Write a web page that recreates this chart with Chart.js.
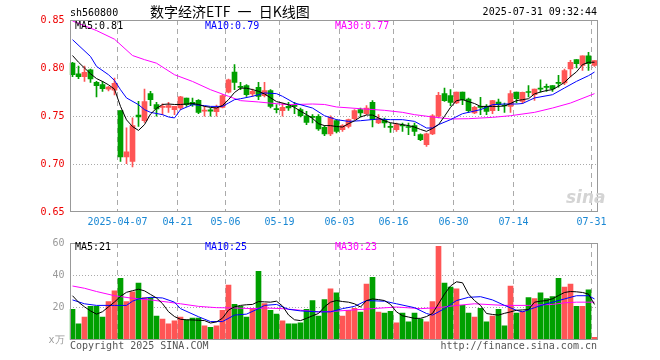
<!DOCTYPE html>
<html>
<head>
<meta charset="utf-8">
<script src="https://cdn.jsdelivr.net/npm/chart.js"></script>
<style>
  body { margin: 0; background: #fff; }
  #wrap { position: relative; width: 660px; height: 360px; overflow: hidden; font-family: 'DejaVu Sans Mono', monospace; font-size: 10px; }
  canvas { position: absolute; left: 0; }
  .t { position: absolute; white-space: nowrap; line-height: 12px; }
</style>
</head>
<body>
<div id="wrap">
  <canvas id="kline" width="660" height="232" style="top:0"></canvas>
  <canvas id="vol" width="660" height="128" style="top:232px"></canvas>
  <div class="t" style="left:70px;top:7px">sh560800</div>
  <div class="t" style="left:150px;top:3px;font:14px/16px 'Noto Sans CJK SC',sans-serif;word-spacing:4px">数字经济ETF 一 日K线图</div>
  <div class="t" style="right:63px;top:6px">2025-07-31 09:32:44</div>
  <div class="t" style="left:75px;top:20px;color:#000">MA5:0.81</div>
  <div class="t" style="left:205px;top:20px;color:#00f">MA10:0.79</div>
  <div class="t" style="left:335px;top:20px;color:#f0f">MA30:0.77</div>
  <div class="t" style="left:566px;top:188px;font:italic bold 17px/18px 'DejaVu Sans',sans-serif;color:#d4d4d4">sina</div>
  <div class="t" style="left:75px;top:241px;color:#000">MA5:21</div>
  <div class="t" style="left:205px;top:241px;color:#00f">MA10:25</div>
  <div class="t" style="left:335px;top:241px;color:#f0f">MA30:23</div>
  <div class="t" style="left:70px;top:340px;color:#555">Copyright 2025 SINA.COM</div>
  <div class="t" style="right:63px;top:340px;color:#555">http://finance.sina.com.cn</div>
</div>
<script>
// trading days shown on the chart
const dates = [
  '2025-03-25', '2025-03-26', '2025-03-27', '2025-03-28', '2025-03-31', '2025-04-01', '2025-04-02', '2025-04-03',
  '2025-04-07', '2025-04-08', '2025-04-09', '2025-04-10', '2025-04-11', '2025-04-14', '2025-04-15', '2025-04-16',
  '2025-04-17', '2025-04-18', '2025-04-21', '2025-04-22', '2025-04-23', '2025-04-24', '2025-04-25', '2025-04-28',
  '2025-04-29', '2025-04-30', '2025-05-06', '2025-05-07', '2025-05-08', '2025-05-09', '2025-05-12', '2025-05-13',
  '2025-05-14', '2025-05-15', '2025-05-16', '2025-05-19', '2025-05-20', '2025-05-21', '2025-05-22', '2025-05-23',
  '2025-05-26', '2025-05-27', '2025-05-28', '2025-05-29', '2025-05-30', '2025-06-03', '2025-06-04', '2025-06-05',
  '2025-06-06', '2025-06-09', '2025-06-10', '2025-06-11', '2025-06-12', '2025-06-13', '2025-06-16', '2025-06-17',
  '2025-06-18', '2025-06-19', '2025-06-20', '2025-06-23', '2025-06-24', '2025-06-25', '2025-06-26', '2025-06-27',
  '2025-06-30', '2025-07-01', '2025-07-02', '2025-07-03', '2025-07-04', '2025-07-07', '2025-07-08', '2025-07-09',
  '2025-07-10', '2025-07-11', '2025-07-14', '2025-07-15', '2025-07-16', '2025-07-17', '2025-07-18', '2025-07-21',
  '2025-07-22', '2025-07-23', '2025-07-24', '2025-07-25', '2025-07-28', '2025-07-29', '2025-07-30', '2025-07-31',
];
const tickDates = ['2025-04-07', '2025-04-21', '2025-05-06', '2025-05-19', '2025-06-03', '2025-06-16', '2025-06-30', '2025-07-14', '2025-07-31'];

const open = [
  0.805, 0.794, 0.791, 0.798, 0.785, 0.7826, 0.778, 0.777, 0.7556, 0.7073, 0.7028, 0.751, 0.7451, 0.7733, 0.7618, 0.759,
  0.759, 0.7566, 0.7583, 0.7687, 0.7642, 0.7663, 0.755, 0.7563, 0.7545, 0.759, 0.7747, 0.7958, 0.781, 0.7816, 0.7729, 0.7799,
  0.7712, 0.7764, 0.7573, 0.7556, 0.760, 0.7604, 0.7566, 0.7503, 0.749, 0.7497, 0.7382, 0.7313, 0.7451, 0.7358, 0.7392, 0.7472,
  0.7566, 0.7524, 0.7642, 0.7427, 0.7462, 0.7385, 0.7358, 0.740, 0.7385, 0.740, 0.7306, 0.7201, 0.7313, 0.7497, 0.7733, 0.7712,
  0.7635, 0.775, 0.7677, 0.7531, 0.7593, 0.760, 0.7556, 0.7646, 0.7608, 0.760, 0.775, 0.7653, 0.775, 0.7722, 0.7785, 0.780,
  0.7816, 0.7844, 0.7844, 0.799, 0.8087, 0.8028, 0.8128, 0.8028,
];
const high = [
  0.806, 0.802, 0.802, 0.799, 0.786, 0.786, 0.781, 0.7895, 0.7556, 0.7378, 0.748, 0.7653, 0.7781, 0.7757, 0.7642, 0.7628,
  0.7642, 0.760, 0.7705, 0.7687, 0.7687, 0.767, 0.760, 0.7583, 0.7615, 0.7722, 0.7885, 0.8035, 0.785, 0.7826, 0.778, 0.785,
  0.785, 0.7774, 0.7618, 0.7635, 0.7642, 0.7642, 0.7583, 0.7549, 0.7514, 0.7514, 0.740, 0.7503, 0.7462, 0.741, 0.7469, 0.7566,
  0.7583, 0.7608, 0.766, 0.7514, 0.7479, 0.7427, 0.7427, 0.7427, 0.7427, 0.7427, 0.7313, 0.7323, 0.7514, 0.7747, 0.7792, 0.7774,
  0.775, 0.775, 0.7687, 0.760, 0.7694, 0.7618, 0.7663, 0.7677, 0.7635, 0.7764, 0.775, 0.775, 0.7816, 0.7781, 0.7878, 0.7833,
  0.7816, 0.7924, 0.799, 0.808, 0.8087, 0.8128, 0.8163, 0.8076,
];
const low = [
  0.791, 0.789, 0.786, 0.785, 0.770, 0.7757, 0.776, 0.772, 0.7028, 0.7003, 0.6969, 0.7392, 0.7434, 0.7608, 0.7497, 0.7514,
  0.7538, 0.7514, 0.7566, 0.760, 0.760, 0.7524, 0.7497, 0.7497, 0.7497, 0.7583, 0.774, 0.7774, 0.7774, 0.7705, 0.7705, 0.767,
  0.770, 0.7583, 0.7531, 0.7497, 0.7559, 0.7524, 0.749, 0.741, 0.7427, 0.735, 0.7295, 0.7295, 0.7323, 0.734, 0.7375, 0.7462,
  0.749, 0.7514, 0.7385, 0.742, 0.7382, 0.733, 0.734, 0.734, 0.7306, 0.7295, 0.7243, 0.7184, 0.7306, 0.7479, 0.7653, 0.7608,
  0.7628, 0.7618, 0.7538, 0.7524, 0.7514, 0.7514, 0.7524, 0.7556, 0.7538, 0.7538, 0.7635, 0.7628, 0.7698, 0.7663, 0.7747, 0.7757,
  0.7757, 0.780, 0.7826, 0.7906, 0.800, 0.7976, 0.7976, 0.8017,
];
const close = [
  0.793, 0.791, 0.7955, 0.7885, 0.7816, 0.7785, 0.780, 0.784, 0.7073, 0.7128, 0.740, 0.749, 0.7649, 0.767, 0.7573, 0.7601,
  0.7608, 0.760, 0.770, 0.7618, 0.7618, 0.7538, 0.7552, 0.755, 0.759, 0.7712, 0.7878, 0.785, 0.7799, 0.7722, 0.7757, 0.7705,
  0.7764, 0.760, 0.7566, 0.759, 0.7583, 0.760, 0.7503, 0.7434, 0.7486, 0.7365, 0.7313, 0.7486, 0.734, 0.740, 0.7462, 0.7556,
  0.7531, 0.7583, 0.7462, 0.7472, 0.7427, 0.7382, 0.741, 0.7396, 0.738, 0.734, 0.7253, 0.7313, 0.7503, 0.7715, 0.766, 0.7642,
  0.775, 0.767, 0.7556, 0.759, 0.759, 0.7549, 0.766, 0.7618, 0.7604, 0.7733, 0.768, 0.7747, 0.7745, 0.7781, 0.778, 0.7799,
  0.7781, 0.784, 0.7972, 0.806, 0.8045, 0.8128, 0.8045, 0.8076,
];
// volume, in units of 10k
const volume = [
  19, 10, 14.2, 20.8, 20.8, 14.2, 23.8, 30.4, 38.2, 23.8, 29.8, 35.2, 26.2, 26.2, 14.8, 13,
  10, 11.8, 14.2, 12.4, 13.6, 13.6, 8.8, 7.8, 8.8, 18.4, 34, 22, 20.8, 14.2, 19.6, 42.4,
  22.6, 18.4, 16, 11.8, 10, 10, 10.6, 19, 24.4, 14.8, 25, 31.6, 29.2, 14.8, 18.4, 19.6,
  17.2, 34.6, 38.8, 17.2, 16.6, 17.8, 10.6, 16.6, 11.2, 16.6, 13, 11.2, 23.8, 58, 35.2, 32.8,
  31.6, 21.4, 16.6, 14.2, 19.6, 11.2, 14.8, 19, 8.8, 33.4, 16.6, 17.8, 26.2, 25.6, 29.2, 25.6,
  26.8, 38.2, 32.8, 34.6, 20.8, 20.8, 31, 1.6,
];

// moving average lines
const priceMa5 = [
  0.813, 0.806, 0.800, 0.794, 0.789, 0.786, 0.7825, 0.778, 0.760, 0.746, 0.739, 0.735, 0.741, 0.752, 0.758, 0.762,
  0.7625, 0.762, 0.762, 0.7625, 0.763, 0.762, 0.760, 0.759, 0.7583, 0.761, 0.767, 0.7745, 0.779, 0.779, 0.7775, 0.7757,
  0.773, 0.769, 0.765, 0.7635, 0.7618, 0.759, 0.755, 0.7515, 0.7475, 0.742, 0.740, 0.740, 0.739, 0.7385, 0.742, 0.745,
  0.749, 0.751, 0.751, 0.748, 0.745, 0.743, 0.742, 0.741, 0.740, 0.7385, 0.736, 0.734, 0.737, 0.741, 0.7497, 0.759,
  0.766, 0.767, 0.765, 0.763, 0.760, 0.760, 0.760, 0.760, 0.7605, 0.763, 0.766, 0.767, 0.768, 0.773, 0.775, 0.7765,
  0.7775, 0.781, 0.785, 0.791, 0.796, 0.8035, 0.806, 0.806,
];
const priceMa10 = [
  [0, 0.8295], [3, 0.812], [4, 0.8017], [6, 0.793], [7, 0.787], [8, 0.7774], [9, 0.7688], [11, 0.7618], [12, 0.7566],
  [13, 0.7538], [15, 0.7514], [16, 0.749], [17, 0.748], [18, 0.7566], [20, 0.7618], [22, 0.7608], [23, 0.760], [25, 0.760],
  [26, 0.7635], [27, 0.767], [28, 0.768], [30, 0.7705], [31, 0.7722], [32, 0.774], [34, 0.7733], [35, 0.7705], [37, 0.7635],
  [40, 0.7583], [42, 0.7503], [44, 0.7462], [46, 0.7444], [48, 0.7451], [51, 0.7469], [53, 0.7462], [55, 0.7462], [57, 0.7444],
  [58, 0.741], [59, 0.7375], [60, 0.7375], [61, 0.741], [63, 0.7462], [65, 0.7524], [68, 0.7566], [70, 0.7618], [72, 0.7625],
  [74, 0.7625], [75, 0.763], [77, 0.7688], [80, 0.7722], [82, 0.7792], [84, 0.7861], [86, 0.792], [87, 0.7958],
];
const priceMa30 = [
  [0, 0.849], [4, 0.839], [7, 0.830], [10, 0.813], [12, 0.8087], [14, 0.805], [17, 0.793], [20, 0.786], [23, 0.7774],
  [26, 0.7705], [28, 0.766], [31, 0.7646], [34, 0.7628], [36, 0.7618], [40, 0.7625], [42, 0.762], [44, 0.7594], [48, 0.7576],
  [52, 0.7559], [55, 0.7538], [57, 0.7514], [60, 0.749], [63, 0.7469], [66, 0.7472], [70, 0.7486], [73, 0.7503], [77, 0.7538],
  [80, 0.7583], [83, 0.7635], [87, 0.7733],
];
const volMa5 = [
  27.4, 23.4, 20.5, 18, 16, 17.5, 20.5, 23.5, 27, 29.5, 30.5, 31.4, 30.4, 28.2, 26, 22.5,
  17.5, 14.5, 12.8, 12.5, 12.4, 12.2, 12, 10.5, 11.2, 13.5, 18.5, 20.5, 21.4, 21.8, 22, 23.8,
  23.6, 23.4, 24, 21, 15.5, 12.5, 12, 13.4, 15, 16.4, 20.5, 23.4, 24.4, 23.8, 23.4, 22.4,
  20.4, 24.4, 25.4, 25, 24.4, 22, 17.4, 15, 14.2, 13.4, 13.4, 14.5, 16.4, 22.4, 28.4, 33.4,
  36, 35.4, 28.4, 24.4, 21.4, 16.4, 15.8, 15.4, 16.5, 17.4, 18.4, 18.6, 18.8, 23.4, 24, 24.4,
  25.5, 27.5, 29.4, 30, 29.8, 29.4, 28.4, 22,
];
const volMa10 = [
  [0, 24.8], [2, 22.4], [4, 21.4], [7, 21.4], [9, 21.4], [10, 24], [11, 25.4], [13, 26.4], [15, 26], [17, 23.4], [18, 19.4],
  [21, 14.4], [23, 11.4], [25, 11.4], [27, 15.4], [29, 16], [31, 19.4], [32, 21.4], [34, 22], [36, 19], [38, 18], [41, 17.4],
  [43, 17.4], [45, 19.4], [47, 20.8], [49, 24.4], [52, 24], [54, 22.4], [57, 20], [59, 16.4], [60, 15.4], [62, 19.4],
  [64, 24.4], [66, 26.4], [68, 26.8], [70, 24.8], [72, 21.4], [74, 18.4], [75, 17.4], [77, 20], [79, 22.4], [82, 25.4],
  [84, 27.4], [86, 27.4], [87, 25.4],
];
const volMa30 = [
  [0, 33.4], [2, 32], [4, 30], [7, 27.4], [10, 25.8], [13, 24.8], [16, 23.4], [18, 22.4], [21, 20.8], [24, 20], [27, 19.8],
  [30, 19.4], [32, 19.8], [35, 19.4], [38, 18.4], [41, 17.4], [43, 17.6], [46, 18.4], [50, 19.4], [54, 20.4], [58, 19.4],
  [61, 20], [64, 21.4], [67, 22.4], [72, 21.4], [76, 21.4], [80, 22], [82, 23], [84, 23.4], [87, 23.4],
];

const UP = '#ff5555';
const DOWN = '#00a000';
const GRID = '#aaaaaa';
const NONE = 'rgba(0,0,0,0)';

Chart.defaults.font.family = "'DejaVu Sans Mono', monospace";
Chart.defaults.font.size = 10;
Chart.defaults.animation = false;

const candleColors = close.map((c, i) => (c >= open[i] ? UP : DOWN));
const pairs = (list) => list.map(([i, v]) => ({ x: dates[i], y: v }));

const frame = {
  id: 'frame',
  afterDatasetsDraw(chart) {
    const { ctx, chartArea: a } = chart;
    ctx.save();
    ctx.strokeStyle = '#999';
    ctx.lineWidth = 1;
    ctx.strokeRect(Math.round(a.left) + 0.5, Math.round(a.top) + 0.5,
      Math.round(a.right - a.left) - 1, Math.round(a.bottom - a.top) - 1);
    ctx.restore();
  },
};

function line(data, color) {
  return {
    type: 'line', data, borderColor: color, borderWidth: 1, pointRadius: 0, tension: 0, order: 0, spanGaps: true,
  };
}

function xScale(showLabels) {
  return {
    type: 'category',
    offset: true,
    grid: {
      offset: true,
      drawTicks: false,
      color: (c) => (c.index !== undefined && tickDates.includes(dates[c.index]) ? GRID : NONE),
    },
    border: { display: false, dash: [5, 4] },
    ticks: {
      display: showLabels,
      autoSkip: false,
      maxRotation: 0,
      minRotation: 0,
      padding: 4,
      labelOffset: -3,
      color: '#1a88d4',
      callback(value, index) {
        const d = dates[index];
        if (!tickDates.includes(d)) return '';
        return d === tickDates[0] ? d : d.slice(5);
      },
    },
    afterFit(scale) { scale.height = showLabels ? 20 : 0; },
  };
}

function yScale(min, max, step, color, fmt) {
  return {
    min,
    max,
    grid: {
      drawTicks: false,
      color: (c) => (c.tick && c.tick.value > min + 1e-6 && c.tick.value < max - 1e-6 ? GRID : NONE),
    },
    border: { display: false, dash: [1, 2] },
    ticks: { stepSize: step, padding: 5, color, callback: fmt },
    afterFit(scale) { scale.width = 69.5; },
  };
}

new Chart(document.getElementById('kline'), {
  type: 'bar',
  data: {
    labels: dates,
    datasets: [
      line(priceMa5, '#000000'),
      line(pairs(priceMa10), '#0000ff'),
      line(pairs(priceMa30), '#ff00ff'),
      {
        data: open.map((o, i) => [Math.min(o, close[i]), Math.max(o, close[i])]),
        backgroundColor: candleColors,
        barThickness: 5,
        minBarLength: 1,
        grouped: false,
        order: 1,
      },
      {
        data: low.map((l, i) => [l, high[i]]),
        backgroundColor: candleColors,
        barThickness: 1,
        grouped: false,
        order: 2,
      },
    ],
  },
  options: {
    responsive: false,
    layout: { padding: { left: 0, right: 62.5, top: 20, bottom: 0 } },
    plugins: { legend: { display: false }, tooltip: { enabled: false } },
    scales: {
      x: xScale(true),
      y: yScale(0.65, 0.85, 0.05, '#ee0000', (v) => v.toFixed(2)),
    },
  },
  plugins: [frame],
});

new Chart(document.getElementById('vol'), {
  type: 'bar',
  data: {
    labels: dates,
    datasets: [
      line(volMa5, '#000000'),
      line(pairs(volMa10), '#0000ff'),
      line(pairs(volMa30), '#ff00ff'),
      {
        data: volume,
        backgroundColor: candleColors,
        barThickness: 5,
        grouped: false,
        order: 1,
      },
    ],
  },
  options: {
    responsive: false,
    layout: { padding: { left: 0, right: 62.5, top: 8, bottom: 20 } },
    plugins: { legend: { display: false }, tooltip: { enabled: false } },
    scales: {
      x: xScale(false),
      y: yScale(0, 60, 20, '#999999', (v) => (v === 0 ? 'x万' : v)),
    },
  },
  plugins: [frame],
});
</script>
</body>
</html>
